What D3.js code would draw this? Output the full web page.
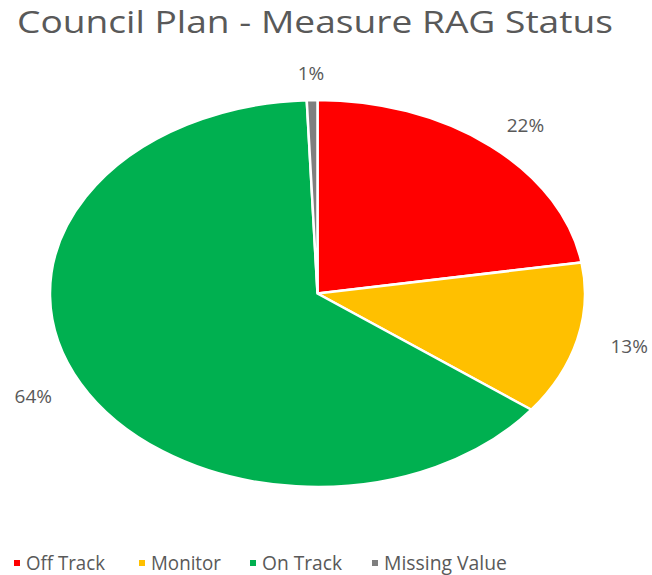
<html><head><style>
  body { margin: 0; background: #fff; font-family: "Open Sans", Arial, sans-serif; }
</style>
</head><body>
<div id="chart"></div>
<script src="https://cdnjs.cloudflare.com/ajax/libs/d3/7.8.5/d3.min.js"></script>
<script>
// data
const categories = ["Off Track", "Monitor", "On Track", "Missing Value"];
const counts = [35, 20, 100, 1];
const colors = ["#ff0000", "#ffc000", "#00b050", "#7f7f7f"];
const titleText = "Council Plan - Measure RAG Status";

const width = 652, height = 575;
const cx = 317.5, cy = 293.5, rx = 267.5, ry = 193.5;
const textColor = "#595959";

const svg = d3.select("#chart").append("svg")
  .attr("width", width)
  .attr("height", height);

// title
svg.append("text")
  .attr("x", 17).attr("y", 33)
  .attr("textLength", 596)
  .attr("lengthAdjust", "spacingAndGlyphs")
  .style("font-size", "31px")
  .style("fill", textColor)
  .text(titleText);

const total = d3.sum(counts);
const pie = d3.pie().sort(null).value(d => d);
const arcs = pie(counts);
const arc = d3.arc().innerRadius(0).outerRadius(ry);
const labelR = ry * 1.14;
const labelArc = d3.arc().innerRadius(labelR).outerRadius(labelR);
const sx = rx / ry;
const labelSx = sx * 1.2 / 1.14;

const g = svg.append("g")
  .attr("transform", `translate(${cx},${cy}) scale(${sx},1)`);

g.selectAll("path")
  .data(arcs)
  .enter()
  .append("path")
  .attr("d", arc)
  .attr("fill", (d, i) => colors[i])
  .attr("stroke", "#fff")
  .attr("stroke-width", 2.5)
  .attr("vector-effect", "non-scaling-stroke");

// percentage labels (outside end)
svg.selectAll("text.pct")
  .data(arcs)
  .enter()
  .append("text")
  .attr("class", "pct")
  .attr("x", d => cx + labelArc.centroid(d)[0] * labelSx)
  .attr("y", d => cy + labelArc.centroid(d)[1] + 7)
  .attr("text-anchor", "middle")
  .style("font-size", "19px")
  .style("fill", textColor)
  .text(d => Math.round(d.value / total * 100) + "%");

// legend
const legendX = [14, 139, 250, 372];
const legendW = [79, 70, 80, 123];
const legend = svg.selectAll("g.leg")
  .data(categories)
  .enter()
  .append("g")
  .attr("class", "leg")
  .attr("transform", (d, i) => `translate(${legendX[i]},563)`);

legend.append("rect")
  .attr("x", 0).attr("y", -3)
  .attr("width", 6).attr("height", 6)
  .attr("fill", (d, i) => colors[i]);

legend.append("text")
  .attr("x", 12).attr("y", 7)
  .attr("textLength", (d, i) => legendW[i])
  .attr("lengthAdjust", "spacingAndGlyphs")
  .style("font-size", "20px")
  .style("fill", textColor)
  .text(d => d);
</script>
</body></html>
